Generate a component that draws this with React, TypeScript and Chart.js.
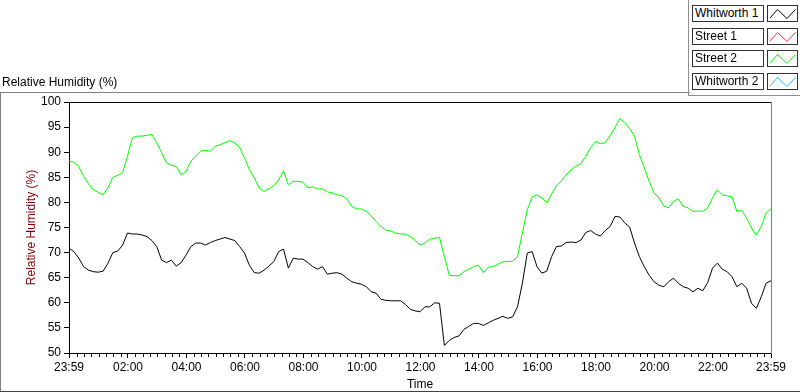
import React, { useEffect, useRef } from "react";
import { Chart, registerables } from "chart.js";

Chart.register(...registerables);

// minutes after 23:59 of the previous day (0 = 23:59, 1440 = 23:59)
const TIMES = [
  0, 10, 20, 30, 40, 50, 60, 70, 80, 90, 100, 110, 120, 130, 140, 150, 160, 170, 180, 190, 200, 210, 220, 230,
  240, 250, 260, 270, 280, 290, 300, 310, 320, 330, 340, 350, 360, 370, 380, 390, 400, 410, 420, 430, 440, 450, 460, 470,
  480, 490, 500, 510, 520, 530, 540, 550, 560, 570, 580, 590, 600, 610, 620, 630, 640, 650, 660, 670, 680, 690, 700, 710, 720,
  730, 740, 750, 760, 770, 780, 790, 800, 810, 820, 830, 840, 850, 860, 870, 880, 890, 900, 910, 920, 930, 940, 950, 960,
  970, 980, 990, 1000, 1010, 1020, 1030, 1040, 1050, 1060, 1070, 1080, 1090, 1100, 1110, 1120, 1130, 1140, 1150, 1160, 1170, 1180, 1190, 1200,
  1210, 1220, 1230, 1240, 1250, 1260, 1270, 1280, 1290, 1300, 1310, 1320, 1330, 1340, 1350, 1360, 1370, 1380, 1390, 1400, 1410, 1420, 1430, 1440,
];

const WHITWORTH_1 = [
  70.9, 70.2, 68.9, 67.2, 66.5, 66.2, 66.1, 66.3, 67.9, 70.0, 70.3, 71.5, 73.9, 73.7, 73.7, 73.5, 73.2, 72.4, 71.2, 68.5, 68.0, 68.5, 67.3, 68.0,
  69.5, 71.2, 71.9, 71.9, 71.5, 72.0, 72.4, 72.7, 73.0, 72.7, 72.4, 71.2, 69.9, 67.5, 66.0, 65.9, 66.5, 67.3, 68.2, 70.2, 70.7, 66.9, 68.9, 68.7,
  68.7, 68.0, 67.2, 66.7, 67.2, 65.7, 65.9, 66.0, 65.7, 64.9, 64.2, 63.9, 63.7, 63.2, 62.2, 61.9, 60.7, 60.5, 60.4, 60.4, 60.4, 59.7, 58.7, 58.4, 58.2,
  59.2, 59.2, 60.0, 59.9, 51.5, 52.5, 53.1, 53.4, 54.7, 55.3, 55.9, 55.9, 55.5, 56.0, 56.5, 56.9, 57.3, 56.9, 57.2, 59.2, 63.9, 69.9, 70.2, 67.2,
  65.9, 66.3, 69.2, 71.2, 71.3, 72.0, 72.1, 72.0, 72.5, 74.0, 74.4, 73.7, 73.3, 74.4, 75.2, 77.2, 77.1, 75.9, 75.1, 71.9, 69.2, 67.2, 65.5, 64.2,
  63.5, 63.2, 64.2, 64.9, 63.9, 63.2, 62.9, 62.2, 62.9, 62.4, 64.0, 66.9, 67.9, 66.7, 66.2, 65.2, 63.2, 63.9, 62.9, 59.9, 58.9, 61.2, 63.9, 64.4,
];

const STREET_1: number[] = [];

const STREET_2 = [
  88.2, 88.0, 87.1, 85.2, 83.7, 82.5, 82.0, 81.5, 82.9, 85.0, 85.4, 85.9, 89.2, 92.9, 93.2, 93.2, 93.4, 93.5, 91.9, 89.9, 87.9, 87.4, 87.2, 85.5,
  86.2, 88.2, 89.3, 90.2, 90.4, 90.2, 91.2, 91.5, 91.9, 92.3, 91.9, 90.9, 88.9, 86.5, 84.9, 82.9, 82.2, 82.7, 83.3, 84.5, 86.3, 83.5, 84.2, 84.2,
  84.0, 82.9, 83.1, 82.7, 82.7, 82.1, 81.9, 81.5, 81.4, 80.7, 79.2, 78.7, 78.7, 78.2, 77.3, 76.2, 75.2, 74.5, 74.3, 73.9, 73.7, 73.7, 73.2, 72.4, 71.5,
  71.9, 72.7, 72.9, 73.0, 69.2, 65.5, 65.4, 65.4, 66.2, 66.7, 67.2, 67.5, 66.0, 67.1, 67.2, 67.7, 68.2, 68.2, 68.3, 69.2, 73.9, 78.5, 81.1, 81.5,
  80.9, 79.9, 81.7, 83.3, 84.3, 85.5, 86.5, 87.2, 87.7, 89.2, 90.9, 92.1, 91.7, 91.9, 93.3, 94.9, 96.7, 95.9, 94.7, 93.2, 89.5, 86.9, 84.2, 81.9,
  80.9, 79.3, 78.9, 80.2, 80.7, 79.2, 78.9, 78.2, 78.3, 78.2, 78.9, 80.9, 82.5, 81.5, 81.3, 81.1, 78.2, 78.4, 76.9, 74.9, 73.5, 75.2, 77.9, 78.7,
];

const WHITWORTH_2: number[] = [];

const SERIES_NAMES = ["Whitworth 1", "Street 1", "Street 2", "Whitworth 2"];
const SERIES_COLORS = ["#000000", "#ff3b3b", "#00ff00", "#3bb4ff"];

// major x ticks (minutes after 23:59) and their labels
const MAJOR_TICKS = [0, 121, 241, 361, 481, 601, 721, 841, 961, 1081, 1201, 1321, 1440];
const MAJOR_LABELS = ["23:59", "02:00", "04:00", "06:00", "08:00", "10:00", "12:00", "14:00", "16:00", "18:00", "20:00", "22:00", "23:59"];
// minor x ticks every 15 clock minutes
const MINOR_TICKS: number[] = [];
for (let t = 1; t < 1440; t += 15) if (!MAJOR_TICKS.includes(t)) MINOR_TICKS.push(t);

const Y_MIN = 50;
const Y_MAX = 100;
const Y_STEP = 5;

const FONT = "'Liberation Sans', Arial, sans-serif";

const framePlugin = {
  id: "lvFrame",
  afterDraw(chart: any) {
    const { ctx, chartArea } = chart;
    const { left, top, right, bottom } = chartArea;
    const xs = chart.scales.x;
    ctx.save();
    ctx.lineWidth = 1;
    ctx.strokeStyle = "#000";
    ctx.beginPath();
    ctx.moveTo(left, Math.round(top) + 0.5);
    ctx.lineTo(Math.round(right), Math.round(top) + 0.5);
    ctx.stroke();
    ctx.strokeStyle = "#808080";
    ctx.beginPath();
    ctx.moveTo(Math.round(right) + 0.5, Math.round(top));
    ctx.lineTo(Math.round(right) + 0.5, Math.round(bottom) + 1);
    ctx.stroke();
    ctx.strokeStyle = "#000";
    ctx.beginPath();
    for (const t of MINOR_TICKS) {
      const px = Math.round(xs.getPixelForValue(t)) + 0.5;
      ctx.moveTo(px, Math.round(bottom));
      ctx.lineTo(px, Math.round(bottom) + 4);
    }
    ctx.stroke();
    ctx.restore();
  },
};

function LegendIcon({ color }: { color: string }) {
  return (
    <svg width={29} height={15} style={{ display: "block" }}>
      <polyline points="2,12 9.5,3.5 19,12.5 27.5,3.5" fill="none" stroke={color} strokeWidth={1} />
    </svg>
  );
}

export default function App() {
  const canvasRef = useRef<HTMLCanvasElement | null>(null);

  useEffect(() => {
    if (!canvasRef.current) return;
    const toXY = (vals: number[]) => vals.map((v, i) => ({ x: TIMES[i], y: v }));
    const seriesData = [WHITWORTH_1, STREET_1, STREET_2, WHITWORTH_2];
    const chart = new Chart(canvasRef.current, {
      type: "line",
      data: {
        datasets: SERIES_NAMES.map((name, i) => ({
          label: name,
          data: toXY(seriesData[i]),
          borderColor: SERIES_COLORS[i],
          backgroundColor: SERIES_COLORS[i],
          borderWidth: 1,
          pointRadius: 0,
          tension: 0,
          fill: false,
        })),
      },
      options: {
        animation: false,
        responsive: false,
        maintainAspectRatio: false,
        events: [],
        layout: { padding: { left: 0, right: 29, top: 102, bottom: 0 } },
        plugins: { legend: { display: false }, tooltip: { enabled: false }, title: { display: false } },
        scales: {
          x: {
            type: "linear",
            min: 0,
            max: 1440,
            afterBuildTicks: (s: any) => {
              s.ticks = MAJOR_TICKS.map((v) => ({ value: v }));
            },
            afterFit: (s: any) => {
              s.height = 39;
            },
            ticks: {
              autoSkip: false,
              maxRotation: 0,
              padding: 2,
              color: "#000",
              font: { family: FONT, size: 12 },
              callback: (v: any) => {
                const i = MAJOR_TICKS.indexOf(Number(v));
                return i >= 0 ? MAJOR_LABELS[i] : "";
              },
            },
            grid: { display: true, drawOnChartArea: false, drawTicks: true, tickLength: 5, tickColor: "#000", tickWidth: 1 },
            border: { display: true, color: "#000", width: 1 },
            title: { display: true, text: "Time", color: "#000", font: { family: FONT, size: 12 }, padding: { top: 0, bottom: 0 } },
          },
          y: {
            type: "linear",
            min: Y_MIN,
            max: Y_MAX,
            afterFit: (s: any) => {
              s.width = 69;
            },
            ticks: { stepSize: Y_STEP, padding: 3, color: "#000", font: { family: FONT, size: 12 } },
            grid: { display: true, drawOnChartArea: false, drawTicks: true, tickLength: 5, tickColor: "#000", tickWidth: 1 },
            border: { display: true, color: "#000", width: 1 },
            title: {
              display: true,
              text: "Relative Humidity (%)",
              color: "#800000",
              font: { family: FONT, size: 12 },
              padding: { top: 24, bottom: 0 },
            },
          },
        },
      },
      plugins: [framePlugin],
    } as any);
    return () => chart.destroy();
  }, []);

  const rowTops = [5, 28, 50, 73];

  return (
    <div style={{ position: "fixed", left: 0, top: 0, width: 800, height: 392, background: "#fff", overflow: "hidden", fontFamily: FONT, fontSize: 12 }}>
      <canvas ref={canvasRef} width={800} height={392} style={{ position: "absolute", left: 0, top: 0, width: 800, height: 392 }} />
      {/* graph frame */}
      <div style={{ position: "absolute", left: 0, top: 92, width: 690, height: 1, background: "#808080" }} />
      <div style={{ position: "absolute", left: 0, top: 92, width: 1, height: 300, background: "#808080" }} />
      <div style={{ position: "absolute", left: 0, top: 391, width: 800, height: 1, background: "#404040" }} />
      {/* graph title */}
      <div style={{ position: "absolute", left: 2, top: 75, lineHeight: "15px", color: "#000", whiteSpace: "nowrap" }}>Relative Humidity (%)</div>
      {/* legend frame */}
      <div style={{ position: "absolute", left: 688, top: 0, width: 1, height: 96, background: "#909090" }} />
      <div style={{ position: "absolute", left: 688, top: 95, width: 112, height: 1, background: "#909090" }} />
      {SERIES_NAMES.map((name, i) => (
        <React.Fragment key={name}>
          <div
            style={{
              position: "absolute",
              left: 692,
              top: rowTops[i],
              width: 70,
              height: 15,
              border: "1px solid #333",
              background: "#fff",
              lineHeight: "15px",
              paddingLeft: 0,
              boxSizing: "content-box",
              color: "#000",
              whiteSpace: "nowrap",
              overflow: "hidden",
            }}
          >
            <span style={{ marginLeft: 2 }}>{name}</span>
          </div>
          <div
            style={{
              position: "absolute",
              left: 767,
              top: rowTops[i],
              width: 29,
              height: 15,
              border: "1px solid #333",
              background: "#fff",
            }}
          >
            <LegendIcon color={SERIES_COLORS[i]} />
          </div>
        </React.Fragment>
      ))}
    </div>
  );
}
